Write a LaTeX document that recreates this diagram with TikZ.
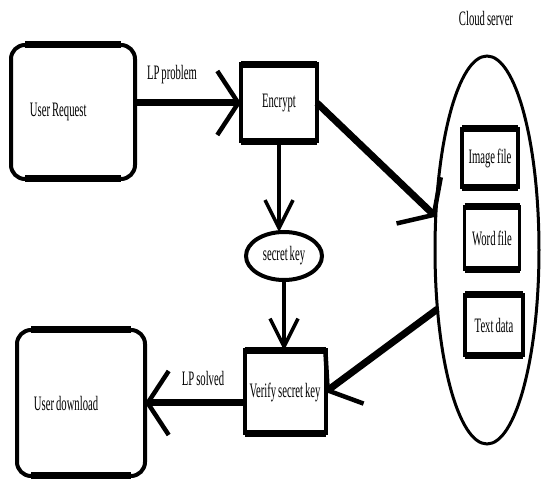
\documentclass[tikz,border=0pt]{standalone}
\usepackage{fontspec}
\setmainfont{Liberation Serif}[FakeStretch=0.52, WordSpace=0.75]
\usetikzlibrary{arrows.meta, positioning, shapes.geometric}

\begin{document}
\begin{tikzpicture}[
  x=1pt, y=-1pt,
  font=\fontsize{20.5}{22}\selectfont,
  user/.style={rectangle, draw, rounded corners=14pt, line width=4pt, inner sep=0pt, outer sep=0pt},
  proc/.style={rectangle, draw, line width=4pt, inner sep=0pt, outer sep=0pt},
  file/.style={rectangle, draw, line width=3.5pt, inner sep=0pt, outer sep=0pt},
  key/.style={ellipse, draw, line width=4pt, inner sep=0pt, outer sep=0pt},
  store/.style={ellipse, draw, line width=3pt, inner sep=0pt, outer sep=0pt},
  rim/.style={line width=7pt},
  flow/.style={line width=7pt, -{Straight Barb[length=21pt, width=64pt, line width=4.5pt 0]}},
  down/.style={line width=3.5pt, -{Straight Barb[length=28pt, width=28pt, line width=3.5pt 0]}}
]
  \useasboundingbox (0,0) rectangle (542,481);

  \node[user, minimum width=124pt, minimum height=134pt] (ureq) at (73,112) {\makebox[86pt][l]{User Request}};
  \node[proc, minimum width=76pt, minimum height=77pt] (enc) at (279,103) {Encrypt};
  \node[key, minimum width=76pt, minimum height=48pt] (sk) at (284,256) {secret key};
  \node[proc, minimum width=81pt, minimum height=83pt] (vsk) at (285,392) {Verify secret key};
  \node[user, minimum width=128pt, minimum height=146pt] (udl) at (81,403) {\makebox[94pt][l]{User download}};

  % cloud side
  \node[store, minimum width=104pt, minimum height=388pt] (cloud) at (487,250) {};
  \node (cs) at (486,18) {Cloud server};
  \node[file, minimum width=56pt, minimum height=59pt] (img) at (490,158) {Image file};
  \node[file, minimum width=55pt, minimum height=63pt] (word) at (492,238) {Word file};
  \node[file, minimum width=58pt, minimum height=61pt] (txt) at (494,325) {Text data};

  % heavier top and bottom edges
  \foreach \n in {enc, vsk, img, word, txt} {
    \draw[rim] (\n.north west) -- (\n.north east);
    \draw[rim] (\n.south west) -- (\n.south east);
  }
  \foreach \n in {ureq, udl} {
    \draw[rim] ([xshift=14pt]\n.north west) -- ([xshift=-14pt]\n.north east);
    \draw[rim] ([xshift=14pt]\n.south west) -- ([xshift=-14pt]\n.south east);
  }

  \draw[flow] (ureq.east |- enc.west) -- (enc.west);
  \node (lpp) at (172,75) {LP problem};
  \draw[down] (enc.south) -- (enc.south |- sk.north);
  \draw[down] (sk.south) -- (sk.south |- vsk.north);
  \draw[flow] (enc.east) -- (cloud.147);
  \draw[flow] (cloud.230) -- (vsk.east);
  \draw[flow] (udl.east -| vsk.west) -- (udl.east);
  \node (lps) at (203,378) {LP solved};
\end{tikzpicture}
\end{document}
